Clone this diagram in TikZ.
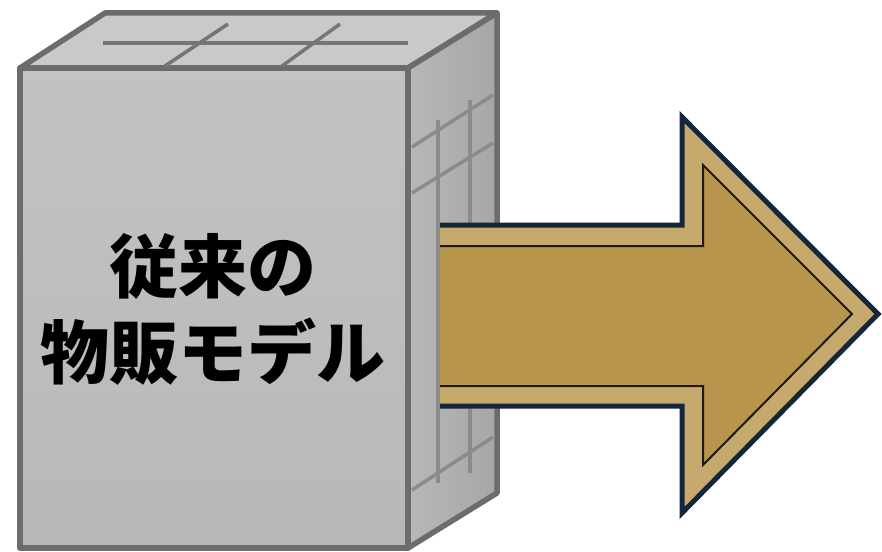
\documentclass[tikz,border=0pt]{standalone}
\usepackage{fontspec}
\newfontfamily\jpfont{Noto Sans CJK JP}
\definecolor{boxedge}{HTML}{6C6C6C}
\definecolor{boxfront}{HTML}{B8B8B8}
\definecolor{boxtop}{HTML}{C9C9C9}
\definecolor{boxside}{HTML}{A6A6A6}
\definecolor{gridgray}{HTML}{767676}
\definecolor{navy}{HTML}{16263A}
\definecolor{goldband}{HTML}{C6A96C}
\definecolor{gold}{HTML}{B7954D}
\definecolor{inkline}{HTML}{1C1A12}

\begin{document}
\begin{tikzpicture}[x=1pt,y=-1pt,line join=round,
  face/.style={draw=boxedge,line width=5.5pt},
  grid/.style={draw=gridgray,line width=3.5pt},
  label/.style={font=\jpfont\bfseries\fontsize{69}{86}\selectfont,align=center,text=black}]
\useasboundingbox[fill=white] (0,0) rectangle (882,551);
\path[face,fill=boxtop] (20,68) -- (105,13) -- (497,13) -- (408,68) -- cycle;
\path[face,left color=boxside!80,right color=boxside] (408,68) -- (497,13) -- (497,493) -- (408,548) -- cycle;
\path[face,top color=boxfront!85,bottom color=boxfront] (20,68) rectangle (408,548);
\draw[grid] (103,43) -- (408,43);
\draw[grid] (165,66) -- (228,24);
\draw[grid] (282,66) -- (340,24);
\draw[grid,draw=gridgray!85] (438,120) -- (438,483);
\draw[grid,draw=gridgray!85] (470,100) -- (470,473);
\draw[grid,draw=gridgray!85] (412,147) -- (493,95);
\draw[grid,draw=gridgray!85] (412,193) -- (493,143);
\draw[grid,draw=gridgray!85] (412,490) -- (493,437);
\node[label] (model) at (213,309) {従来の\\物販モデル};
\fill[goldband] (440,225) -- (682,225) -- (682,117) -- (878,314) -- (682,513) -- (682,406) -- (440,406) -- cycle;
\draw[navy,line width=5pt,line join=miter] (440,225) -- (682,225) -- (682,117) -- (878,314) -- (682,513) -- (682,406) -- (440,406);
\fill[gold] (440,246) -- (703,246) -- (703,165) -- (852,314) -- (703,465) -- (703,386) -- (440,386) -- cycle;
\draw[inkline,line width=2pt,line join=miter] (440,246) -- (703,246) -- (703,165) -- (852,314) -- (703,465) -- (703,386) -- (440,386);
\end{tikzpicture}
\end{document}
